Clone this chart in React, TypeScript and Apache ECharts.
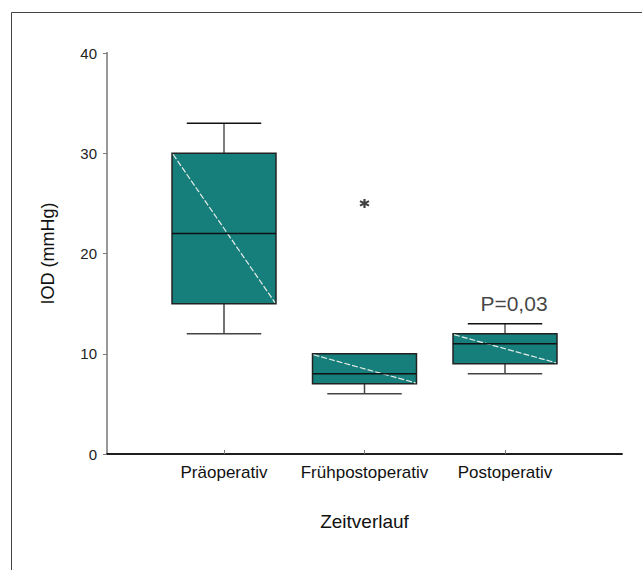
import React, { useEffect, useRef } from "react";
import * as echarts from "echarts";

const categories = ["Präoperativ", "Frühpostoperativ", "Postoperativ"];
const boxMin = [12, 6, 8];
const boxQ1 = [15, 7, 9];
const boxMedian = [22, 8, 11];
const boxQ3 = [30, 10, 12];
const boxMax = [33, 10, 13];
const outliers = [[1, 25]];
const yMin = 0;
const yMax = 40;
const yInterval = 10;
const annotationPoint = [[2, 15]];
const annotationText = "P=0,03";
const yAxisName = "IOD (mmHg)";
const xAxisName = "Zeitverlauf";

const FONT = "'Liberation Sans', Arial, sans-serif";
const TEAL = "#167f7b";

export default function App() {
  const ref = useRef<HTMLDivElement>(null);

  useEffect(() => {
    document.body.style.margin = "0";
    const chart = echarts.init(ref.current!, null, { renderer: "svg" });

    const boxData = categories.map((_, i) => [i, boxMin[i], boxQ1[i], boxMedian[i], boxQ3[i], boxMax[i]]);

    const renderItem = (params: any, api: any) => {
      const x = api.value(0);
      const pMin = api.coord([x, api.value(1)]);
      const pQ1 = api.coord([x, api.value(2)]);
      const pMed = api.coord([x, api.value(3)]);
      const pQ3 = api.coord([x, api.value(4)]);
      const pMax = api.coord([x, api.value(5)]);
      const band = api.size([1, 0])[0];
      const bw = band * 0.74;
      const cw = band * 0.53;
      const cx = pMed[0];
      const children: any[] = [];
      if (api.value(5) > api.value(4)) {
        children.push({
          type: "line",
          shape: { x1: cx, y1: pMax[1], x2: cx, y2: pQ3[1] },
          style: { stroke: "#555", lineWidth: 1.5 },
        });
        children.push({
          type: "line",
          shape: { x1: cx - cw / 2, y1: pMax[1], x2: cx + cw / 2, y2: pMax[1] },
          style: { stroke: "#111", lineWidth: 1.5 },
        });
      }
      if (api.value(1) < api.value(2)) {
        children.push({
          type: "line",
          shape: { x1: cx, y1: pQ1[1], x2: cx, y2: pMin[1] },
          style: { stroke: "#444", lineWidth: 1.5 },
        });
        children.push({
          type: "line",
          shape: { x1: cx - cw / 2, y1: pMin[1], x2: cx + cw / 2, y2: pMin[1] },
          style: { stroke: "#444", lineWidth: 1.5 },
        });
      }
      children.push({
        type: "rect",
        shape: { x: cx - bw / 2, y: pQ3[1], width: bw, height: pQ1[1] - pQ3[1] },
        style: { fill: TEAL, stroke: "#222", lineWidth: 1.5 },
      });
      children.push({
        type: "line",
        shape: { x1: cx - bw / 2 + 1, y1: pQ3[1] + 1, x2: cx + bw / 2 - 1, y2: pQ1[1] - 1 },
        style: { stroke: "#e6ece8", lineWidth: 1.2, lineDash: [6, 2] },
      });
      children.push({
        type: "line",
        shape: { x1: cx - bw / 2, y1: pMed[1], x2: cx + bw / 2, y2: pMed[1] },
        style: { stroke: "#111", lineWidth: 1.5 },
      });
      return { type: "group", children };
    };

    chart.setOption({
      animation: false,
      backgroundColor: "#fff",
      textStyle: { fontFamily: FONT },
      graphic: [
        {
          type: "rect",
          shape: { x: 11.5, y: 12.5, width: 700, height: 700 },
          style: { fill: "none", stroke: "#444", lineWidth: 1 },
          silent: true,
        },
      ],
      grid: [
        { left: 107, top: 53, width: 515, height: 401 },
        { left: 153.75, top: 53, width: 421.5, height: 401 },
      ],
      xAxis: [
        {
          gridIndex: 0,
          type: "value",
          min: 0,
          max: 1,
          position: "bottom",
          axisLine: { show: true, lineStyle: { color: "#111", width: 1.5 } },
          axisTick: { show: false },
          axisLabel: { show: false },
          splitLine: { show: false },
        },
        {
          gridIndex: 0,
          type: "value",
          min: 0,
          max: 1,
          position: "top",
          axisLine: { show: true, lineStyle: { color: "#111", width: 1.5 } },
          axisTick: { show: false },
          axisLabel: { show: false },
          splitLine: { show: false },
        },
        {
          gridIndex: 1,
          type: "category",
          data: categories,
          boundaryGap: true,
          position: "bottom",
          axisLine: { show: false },
          axisTick: { show: true, inside: true, length: 4, alignWithLabel: true, lineStyle: { color: "#777" } },
          axisLabel: { color: "#111", fontSize: 17, margin: 10, fontFamily: FONT, interval: 0 },
          name: xAxisName,
          nameLocation: "middle",
          nameGap: 58,
          nameTextStyle: { color: "#111", fontSize: 19, fontFamily: FONT },
          splitLine: { show: false },
        },
      ],
      yAxis: [
        {
          gridIndex: 0,
          type: "value",
          min: yMin,
          max: yMax,
          interval: yInterval,
          position: "left",
          axisLine: { show: true, lineStyle: { color: "#111", width: 1.5 } },
          axisTick: { show: true, length: 4, lineStyle: { color: "#777" } },
          axisLabel: { color: "#222", fontSize: 15, margin: 10, fontFamily: FONT },
          splitLine: { show: false },
          name: yAxisName,
          nameLocation: "middle",
          nameGap: 50,
          nameTextStyle: { color: "#111", fontSize: 18, fontFamily: FONT },
        },
        {
          gridIndex: 0,
          type: "value",
          min: yMin,
          max: yMax,
          position: "right",
          axisLine: { show: true, lineStyle: { color: "#999", width: 2 } },
          axisTick: { show: false },
          axisLabel: { show: false },
          splitLine: { show: false },
        },
        {
          gridIndex: 1,
          type: "value",
          min: yMin,
          max: yMax,
          show: false,
          splitLine: { show: false },
        },
      ],
      series: [
        {
          type: "custom",
          xAxisIndex: 2,
          yAxisIndex: 2,
          renderItem,
          encode: { x: 0, y: [1, 2, 3, 4, 5] },
          data: boxData,
          z: 2,
        },
        {
          type: "scatter",
          xAxisIndex: 2,
          yAxisIndex: 2,
          symbol: "path://M5,0L5,10M0.7,2.5L9.3,7.5M0.7,7.5L9.3,2.5",
          symbolSize: 9,
          itemStyle: { color: "rgba(0,0,0,0)", borderColor: "#111", borderWidth: 2.2 },
          data: outliers,
          z: 3,
        },
        {
          type: "scatter",
          xAxisIndex: 2,
          yAxisIndex: 2,
          symbolSize: 0,
          data: annotationPoint,
          label: {
            show: true,
            position: "inside",
            formatter: () => annotationText,
            color: "#111",
            fontSize: 21,
            fontFamily: FONT,
            offset: [9, 0],
          },
          z: 3,
        },
      ],
    });

    return () => chart.dispose();
  }, []);

  return <div ref={ref} style={{ position: "absolute", left: 0, top: 0, width: 642, height: 570 }} />;
}
